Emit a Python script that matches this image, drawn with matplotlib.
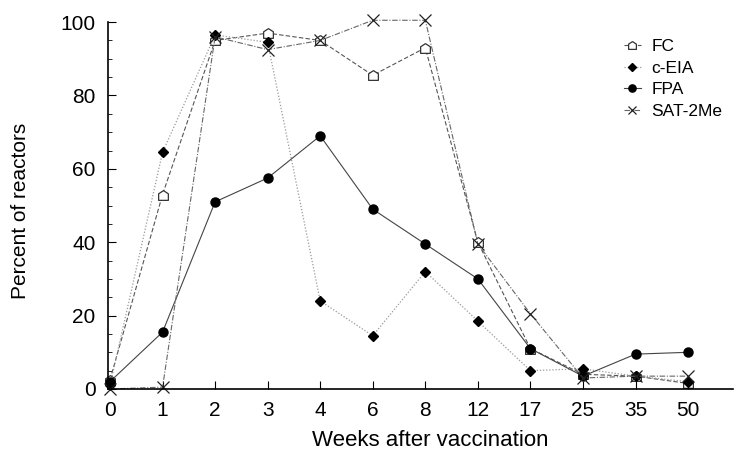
import matplotlib
matplotlib.use("Agg")
import matplotlib.pyplot as plt
from matplotlib.path import Path
from matplotlib.ticker import MultipleLocator

plt.rcParams['font.family'] = ['Liberation Sans', 'DejaVu Sans']

weeks = ['0', '1', '2', '3', '4', '6', '8', '12', '17', '25', '35', '50']
fc = [2.5, 53, 95, 97, 95, 85.5, 93, 40, 11, 4, 3.5, 1.5]
ceia = [1, 64.5, 96.5, 94.5, 24, 14.5, 32, 18.5, 5, 5.5, 3.5, 2]
fpa = [2, 15.5, 51, 57.5, 69, 49, 39.5, 30, 11, 3.5, 9.5, 10]
sat = [0, 0.5, 96, 92.5, 95, 100.5, 100.5, 39.5, 20.5, 3, 3.5, 3.5]

# house-shaped marker for FC
house = Path([(-1, -1), (1, -1), (1, 0.35), (0, 1), (-1, 0.35), (-1, -1)],
             [Path.MOVETO, Path.LINETO, Path.LINETO, Path.LINETO, Path.LINETO, Path.CLOSEPOLY])

fig = plt.figure(figsize=(7.34, 4.51), dpi=100)
ax = fig.add_axes([0.147, 0.1375, 0.852, 0.8135])
x = list(range(len(weeks)))

ax.plot(x, fc, color='#555555', ls=(0, (4, 2)), lw=0.8, marker=house, ms=7,
        mfc='white', mec='#333333', mew=0.9, label='FC', clip_on=False)
ax.plot(x, ceia, color='#999999', ls=(0, (1, 1.5)), lw=0.9, marker='D', ms=5,
        mfc='black', mec='black', label='c-EIA', clip_on=False)
ax.plot(x, fpa, color='#444444', ls='-', lw=0.8, marker='o', ms=6.5,
        mfc='black', mec='black', label='FPA', clip_on=False)
ax.plot(x, sat, color='#666666', ls=(0, (5, 1.5, 1, 1.5)), lw=0.8, marker='x', ms=8,
        mec='#222222', mew=0.9, label='SAT-2Me', clip_on=False)

ax.set_xlim(-0.04, 11.86)
ax.set_ylim(0, 100)
ax.set_xticks(x)
ax.set_xticklabels(weeks)
ax.yaxis.set_major_locator(MultipleLocator(20))
ax.yaxis.set_minor_locator(MultipleLocator(5))
ax.tick_params(axis='both', which='major', direction='in', length=6, labelsize=15, width=0.8)
ax.tick_params(axis='y', which='minor', direction='in', length=3, width=0.6)
ax.tick_params(axis='x', pad=9)
ax.tick_params(axis='y', pad=9)
ax.spines['top'].set_visible(False)
ax.spines['right'].set_visible(False)
ax.spines['left'].set_linewidth(1.2)
ax.spines['bottom'].set_linewidth(1.2)

ax.set_xlabel('Weeks after vaccination', fontsize=16)
ax.set_ylabel('Percent of reactors', fontsize=15)
ax.xaxis.set_label_coords(0.515, -0.112)
ax.yaxis.set_label_coords(-0.125, 0.485)

leg = ax.legend(loc='upper left', bbox_to_anchor=(0.8, 0.997), frameon=False,
                fontsize=12.5, handlelength=1.0, labelspacing=0.38, handletextpad=0.6,
                markerscale=0.8)

fig.savefig('out.png', dpi=100)
